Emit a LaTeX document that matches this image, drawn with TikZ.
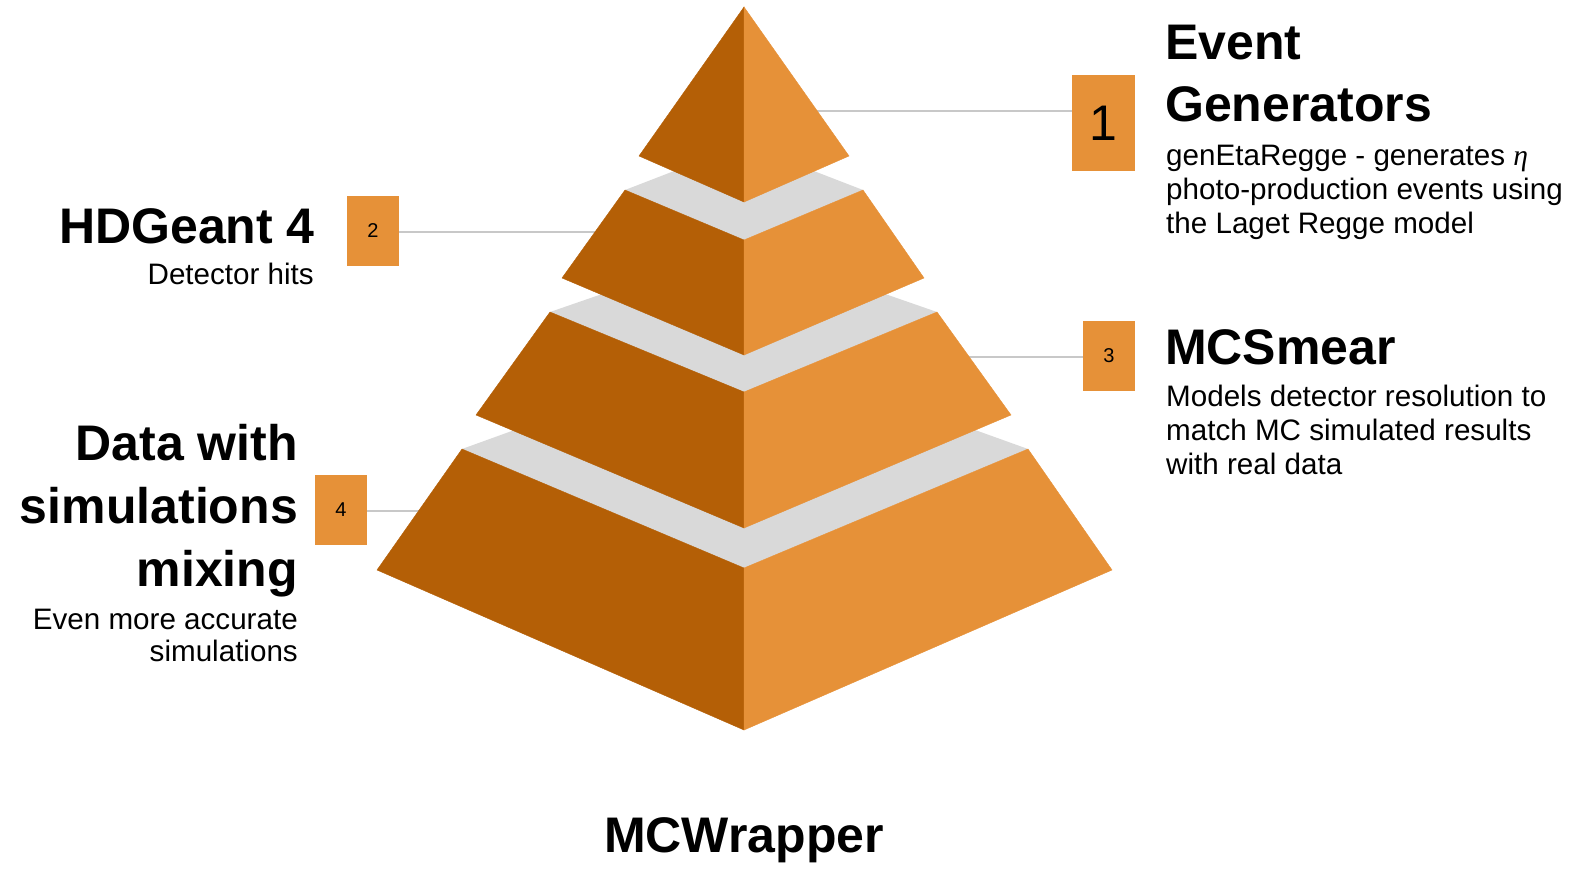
\documentclass[tikz,border=0pt]{standalone}
\usepackage{fontspec}
\setmainfont{Liberation Sans}
\newfontfamily\etafont{Liberation Serif}
\definecolor{pyrdark}{HTML}{B45F06}
\definecolor{pyrlight}{HTML}{E69138}
\definecolor{pyrtop}{HTML}{D9D9D9}
\definecolor{linkgray}{HTML}{C8C8C8}

\begin{document}
\begin{tikzpicture}[x=1pt,y=-1pt,
    darkface/.style={fill=pyrdark,draw=pyrdark,line width=0.4pt},
    lightface/.style={fill=pyrlight,draw=pyrlight,line width=0.4pt},
    topface/.style={fill=pyrtop},
    link/.style={draw=linkgray,line width=2pt},
    numbox/.style={fill=pyrlight,inner sep=0pt,minimum width=52pt,minimum height=70pt,font=\fontsize{20}{20}\selectfont},
    headtext/.style={inner sep=0pt,font=\fontsize{50}{62}\selectfont\bfseries},
    bodytext/.style={inner sep=0pt,font=\fontsize{29.6}{34}\selectfont}]
    \useasboundingbox (0,0) rectangle (1573,869);

    % number boxes
    \node[numbox,minimum width=63pt,minimum height=96pt,font=\fontsize{50}{50}\selectfont] (n1) at (1103.5,123) {1};
    \node[numbox] (n2) at (373,231) {2};
    \node[numbox] (n3) at (1109,356) {3};
    \node[numbox] (n4) at (341,510) {4};

    % link ends, a little inside the pyramid
    \coordinate (e1) at (812,111);
    \coordinate (e2) at (600,232);
    \coordinate (e3) at (964,357);
    \coordinate (e4) at (423,511);
    \draw[link] (e1) -- (e1 -| n1.west);
    \draw[link] (e2) -- (e2 -| n2.east);
    \draw[link] (e3) -- (e3 -| n3.west);
    \draw[link] (e4) -- (e4 -| n4.east);

    % bottom tier
    \fill[topface] (462,449) -- (744,347) -- (1028,449) -- (744,568) -- cycle;
    \filldraw[darkface] (462,449) -- (744,568) -- (744,730) -- (377,570) -- cycle;
    \filldraw[lightface] (744,568) -- (1028,449) -- (1112,570) -- (744,730) -- cycle;
    % third tier
    \fill[topface] (550,312) -- (744,245) -- (937,312) -- (744,392) -- cycle;
    \filldraw[darkface] (550,312) -- (744,392) -- (744,528) -- (476,415) -- cycle;
    \filldraw[lightface] (744,392) -- (937,312) -- (1011,415) -- (744,528) -- cycle;
    % second tier
    \fill[topface] (625,190) -- (744,144) -- (863,190) -- (744,240) -- cycle;
    \filldraw[darkface] (625,190) -- (744,240) -- (744,355) -- (562,278) -- cycle;
    \filldraw[lightface] (744,240) -- (863,190) -- (924,278) -- (744,355) -- cycle;
    % top
    \filldraw[darkface] (744,7) -- (744,202) -- (639,156) -- cycle;
    \filldraw[lightface] (744,7) -- (849,156) -- (744,202) -- cycle;

    % texts
    \node[headtext,anchor=north west,align=left] (h1) at (1165,25) {Event\\Generators};
    \node[bodytext,anchor=north west,align=left] (b1) at (1166,145) {genEtaRegge - generates {\etafont\itshape η}\\photo-production events using\\the Laget Regge model};
    \node[headtext,anchor=north east,align=right] (h2) at (315,208) {HDGeant 4};
    \node[bodytext,anchor=north east,align=right] (b2) at (314,263) {Detector hits};
    \node[headtext,anchor=north west,align=left] (h3) at (1165,329) {MCSmear};
    \node[bodytext,anchor=north west,align=left] (b3) at (1166,385) {Models detector resolution to\\match MC simulated results\\with real data};
    \node[headtext,anchor=north east,align=right,font=\fontsize{50}{63}\selectfont\bfseries] (h4) at (298,424) {Data with\\simulations\\mixing};
    \node[bodytext,anchor=north east,align=right,font=\fontsize{29.6}{32}\selectfont] (b4) at (298,609) {Even more accurate\\simulations};
    \node[headtext,anchor=base] (title) at (744,852) {MCWrapper};
\end{tikzpicture}
\end{document}
